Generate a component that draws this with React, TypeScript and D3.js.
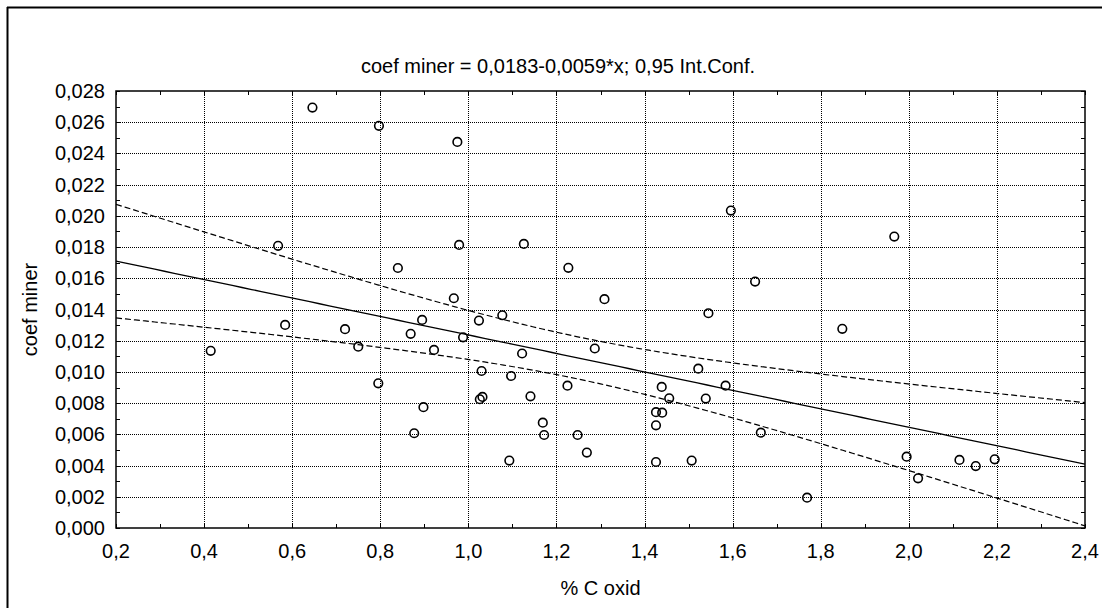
import React from "react";
import * as d3 from "d3";

const xValues = [
  0.415, 0.568, 0.584, 0.646, 0.72, 0.75, 0.797, 0.7955, 0.84, 0.869,
  0.877, 0.895, 0.898, 0.922, 0.967, 0.975, 0.979, 0.988, 1.024, 1.026,
  1.032, 1.03, 1.077, 1.093, 1.097, 1.122, 1.126, 1.141, 1.169, 1.172,
  1.225, 1.227, 1.248, 1.269, 1.287, 1.309, 1.426, 1.426, 1.426, 1.439,
  1.44, 1.456, 1.507, 1.522, 1.539, 1.545, 1.584, 1.596, 1.651, 1.664,
  1.769, 1.849, 1.967, 1.995, 2.021, 2.115, 2.152, 2.195,
];
const yValues = [
  0.01135, 0.01808, 0.01301, 0.02694, 0.01274, 0.01162, 0.02577, 0.00927, 0.01666, 0.01244,
  0.00607, 0.01333, 0.00774, 0.01141, 0.01472, 0.02474, 0.01814, 0.01222, 0.01329, 0.00825,
  0.0084, 0.01006, 0.01363, 0.00432, 0.00974, 0.01118, 0.0182, 0.00844, 0.00675, 0.00596,
  0.00912, 0.01667, 0.00596, 0.00483, 0.0115, 0.01466, 0.00742, 0.00658, 0.00423, 0.00904,
  0.00739, 0.00831, 0.00432, 0.01021, 0.00829, 0.01376, 0.00912, 0.02034, 0.01579, 0.00611,
  0.00194, 0.01276, 0.01867, 0.00457, 0.00318, 0.00436, 0.00397, 0.0044,
];
const xTicks = [0.2, 0.4, 0.6, 0.8, 1.0, 1.2, 1.4, 1.6, 1.8, 2.0, 2.2, 2.4];
const yTicks = [0, 0.002, 0.004, 0.006, 0.008, 0.01, 0.012, 0.014, 0.016, 0.018, 0.02, 0.022, 0.024, 0.026, 0.028];
const titleText = "coef miner = 0,0183-0,0059*x; 0,95 Int.Conf.";
const xLabel = "% C oxid";
const yLabel = "coef miner";
const T_CRIT = 2.0032; // t(0.975, df=56)

const W = 1102;
const H = 608;
const L = 116, R = 1085, TOP = 91, BOT = 528;
const FONT = "Arial, 'Liberation Sans', sans-serif";

export default function App() {
  const x = d3.scaleLinear().domain([0.2, 2.4]).range([L, R]);
  const y = d3.scaleLinear().domain([0, 0.028]).range([BOT, TOP]);

  const n = xValues.length;
  const mx = d3.mean(xValues)!;
  const my = d3.mean(yValues)!;
  let sxx = 0, sxy = 0;
  for (let i = 0; i < n; i++) {
    sxx += (xValues[i] - mx) ** 2;
    sxy += (xValues[i] - mx) * (yValues[i] - my);
  }
  const b = sxy / sxx;
  const a = my - b * mx;
  let sse = 0;
  for (let i = 0; i < n; i++) sse += (yValues[i] - (a + b * xValues[i])) ** 2;
  const s = Math.sqrt(sse / (n - 2));

  const xs = d3.range(0, 101).map((i) => 0.2 + (2.2 * i) / 100);
  const fit = (v: number) => a + b * v;
  const hw = (v: number) => T_CRIT * s * Math.sqrt(1 / n + (v - mx) ** 2 / sxx);
  const fitPath = d3.line<number>().x((v) => x(v)).y((v) => y(fit(v)))(xs) || "";
  const upPath = d3.line<number>().x((v) => x(v)).y((v) => y(fit(v) + hw(v)))(xs) || "";
  const loPath = d3.line<number>().x((v) => x(v)).y((v) => y(fit(v) - hw(v)))(xs) || "";

  const fmtY = (v: number) => d3.format(".3f")(v).replace(".", ",");
  const fmtX = (v: number) => d3.format(".1f")(v).replace(".", ",");

  const xMinor = d3.range(0, 23).map((i) => 0.2 + i * 0.1);
  const yMinor = d3.range(0, 29).map((i) => i * 0.001);
  const px = (v: number) => Math.round(v) + 0.5;

  return (
    <svg
      width={W}
      height={H}
      style={{ position: "absolute", left: 0, top: 0, background: "#fff" }}
      fontFamily={FONT}
    >
      <rect x={0} y={0} width={W} height={H} fill="#fff" />
      {/* outer frame */}
      <line x1={7.5} y1={7} x2={7.5} y2={H} stroke="#000" strokeWidth={2} />
      <line x1={7} y1={7.5} x2={W} y2={7.5} stroke="#000" strokeWidth={2} />

      <defs>
        <clipPath id="plotClip">
          <rect x={L} y={TOP} width={R - L} height={BOT - TOP} />
        </clipPath>
      </defs>

      {/* grid */}
      {xTicks.slice(1, -1).map((t) => (
        <line key={"gx" + t} x1={px(x(t))} x2={px(x(t))} y1={TOP} y2={BOT} stroke="#000" strokeWidth={1} strokeDasharray="1 1" />
      ))}
      {yTicks.slice(1, -1).map((t) => (
        <line key={"gy" + t} x1={L} x2={R} y1={px(y(t))} y2={px(y(t))} stroke="#000" strokeWidth={1} strokeDasharray="1 1" />
      ))}

      {/* minor ticks inside */}
      {xMinor.map((t, i) => (
        <g key={"mx" + i}>
          <line x1={px(x(t))} x2={px(x(t))} y1={BOT} y2={BOT - 4} stroke="#000" />
          <line x1={px(x(t))} x2={px(x(t))} y1={TOP} y2={TOP + 4} stroke="#000" />
        </g>
      ))}
      {yMinor.map((t, i) => (
        <g key={"my" + i}>
          <line x1={L} x2={L + 4} y1={px(y(t))} y2={px(y(t))} stroke="#000" />
          <line x1={R} x2={R - 4} y1={px(y(t))} y2={px(y(t))} stroke="#000" />
        </g>
      ))}

      {/* regression + confidence band */}
      <g clipPath="url(#plotClip)" fill="none" stroke="#000">
        <path d={fitPath} strokeWidth={1.3} />
        <path d={upPath} strokeWidth={1.2} strokeDasharray="6 3" />
        <path d={loPath} strokeWidth={1.2} strokeDasharray="6 3" />
      </g>

      {/* points */}
      {xValues.map((v, i) => (
        <circle key={"p" + i} cx={x(v)} cy={y(yValues[i])} r={4.3} fill="none" stroke="#000" strokeWidth={1.6} />
      ))}

      {/* plot frame */}
      <rect x={L} y={TOP} width={R - L} height={BOT - TOP} fill="none" stroke="#000" strokeWidth={1.5} />

      {/* tick labels */}
      {yTicks.map((t) => (
        <text key={"ly" + t} x={105} y={y(t)} dy="0.35em" textAnchor="end" fontSize={20} fill="#000">
          {fmtY(t)}
        </text>
      ))}
      {xTicks.map((t) => (
        <text key={"lx" + t} x={x(t)} y={558} textAnchor="middle" fontSize={20} fill="#000">
          {fmtX(t)}
        </text>
      ))}

      <text x={558} y={72.5} textAnchor="middle" fontSize={20} fill="#000">{titleText}</text>
      <text x={(L + R) / 2} y={595} textAnchor="middle" fontSize={20} fill="#000">{xLabel}</text>
      <text transform={`translate(36.5, ${(TOP + BOT) / 2}) rotate(-90)`} textAnchor="middle" fontSize={20} fill="#000">
        {yLabel}
      </text>
    </svg>
  );
}
